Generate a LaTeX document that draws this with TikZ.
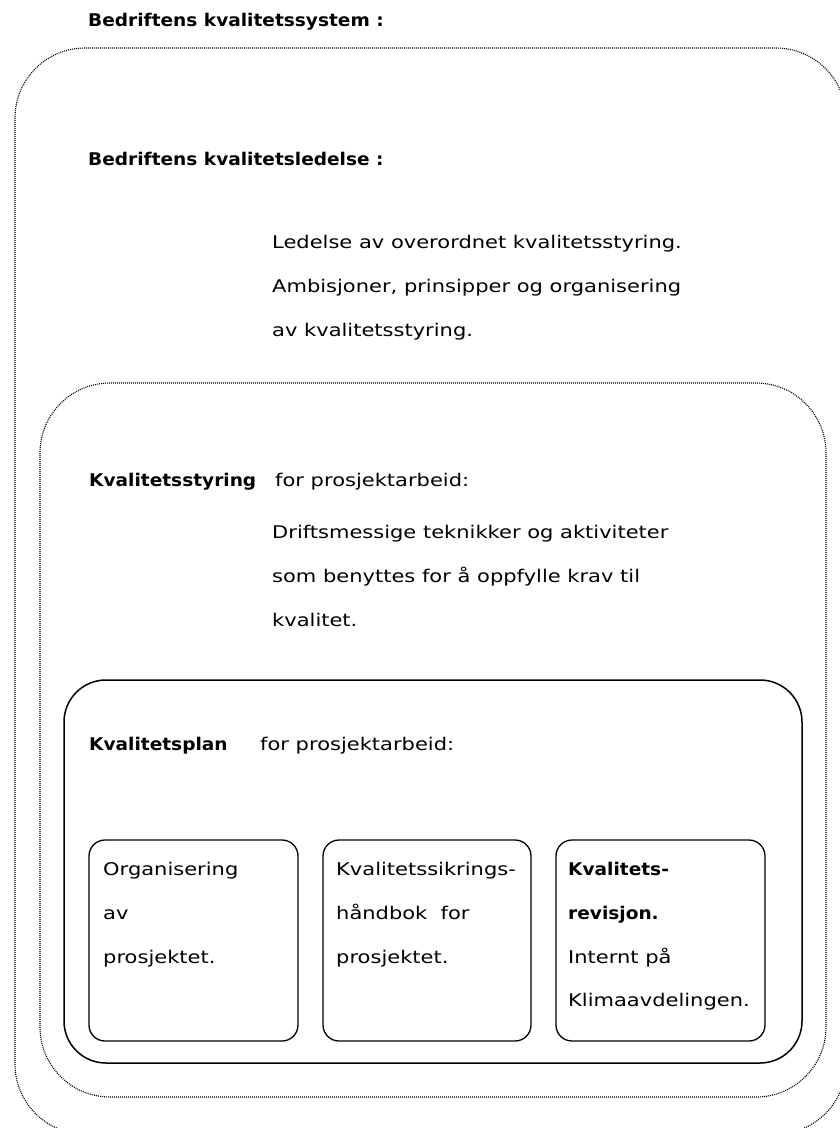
\documentclass[tikz,border=0pt]{standalone}
\usepackage{fontspec}
\setmainfont{DejaVu Sans}
\newfontfamily\regf{DejaVu Sans}[FakeStretch=1.2]
\newfontfamily\boldf{DejaVu Sans}[FakeStretch=1.06]
\begin{document}
\begin{tikzpicture}[x=1pt,y=-1pt,
  txt/.style={anchor=base west, inner sep=0pt, font=\fontsize{17.5}{21}\regf},
  btxt/.style={txt, font=\fontsize{17.5}{21}\boldf\bfseries},
  dotbox/.style={line width=1.1pt, dash pattern=on 1pt off 1pt},
  solbox/.style={line width=1.5pt},
  smallbox/.style={line width=1.3pt, rounded corners=16pt}]
\useasboundingbox (0,0) rectangle (840,1128);
% boxes
\draw[dotbox, rounded corners=70pt] (15,48) rectangle (846,1134);
\draw[dotbox, rounded corners=70pt] (40,383) rectangle (826,1097);
\draw[solbox, rounded corners=42pt] (64,680) rectangle (802,1063);
\draw[smallbox] (89,840) rectangle (298,1041);
\draw[smallbox] (323,840) rectangle (531,1041);
\draw[smallbox] (556,840) rectangle (765,1041);
% texts
\node[btxt] (t1) at (88,26) {Bedriftens kvalitetssystem :};
\node[btxt] (t2) at (88,165) {Bedriftens kvalitetsledelse :};
\node[txt] (l1) at (272,248) {Ledelse av overordnet kvalitetsstyring.};
\node[txt] (l2) at (272,292) {Ambisjoner, prinsipper og organisering};
\node[txt] (l3) at (272,336) {av kvalitetsstyring.};
\node[btxt] (s0) at (89,486) {Kvalitetsstyring};
\node[txt] (s0b) at (275,486) {for prosjektarbeid:};
\node[txt] (s1) at (272,538) {Driftsmessige teknikker og aktiviteter};
\node[txt] (s2) at (272,582) {som benyttes for å oppfylle krav til};
\node[txt] (s3) at (272,626) {kvalitet.};
\node[btxt] (p0) at (89,750) {Kvalitetsplan};
\node[txt] (p0b) at (260,750) {for prosjektarbeid:};
\node[txt] (a1) at (103,875) {Organisering};
\node[txt] (a2) at (103,919) {av};
\node[txt] (a3) at (103,963) {prosjektet.};
\node[txt] (b1) at (336,875) {Kvalitetssikrings-};
\node[txt] (b2) at (336,919) {håndbok\ \ for};
\node[txt] (b3) at (336,963) {prosjektet.};
\node[btxt] (c1) at (568,875) {Kvalitets-};
\node[btxt] (c2) at (568,919) {revisjon.};
\node[txt] (c3) at (568,963) {Internt på};
\node[txt] (c4) at (568,1006) {Klimaavdelingen.};
\end{tikzpicture}
\end{document}
